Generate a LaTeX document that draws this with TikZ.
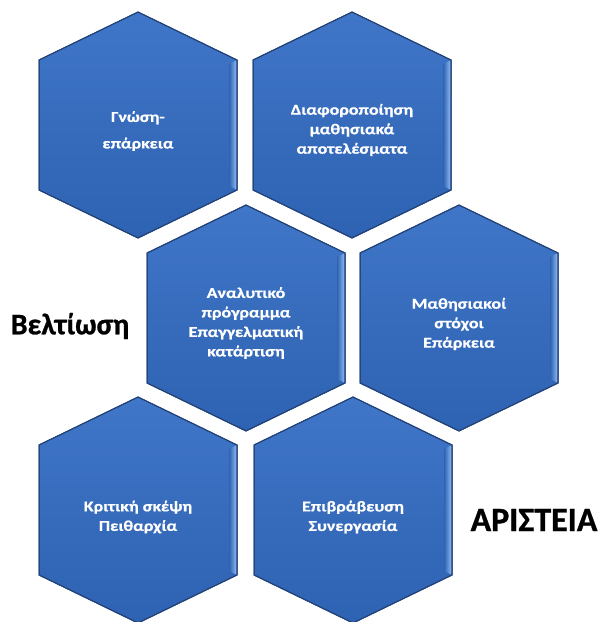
\documentclass[tikz,border=0pt]{standalone}
\usepackage{fontspec}
\setmainfont{Carlito}
\newfontfamily\hexfont{Carlito}[FakeStretch=1.2,FakeBold=0.6]
\newfontfamily\labfont{Carlito}[FakeBold=0.8]
\usetikzlibrary{calc}
\definecolor{hexedge}{RGB}{34,66,120}
\definecolor{hextop}{RGB}{64,118,200}
\definecolor{hexbot}{RGB}{46,98,178}
\definecolor{hexlight}{RGB}{140,185,240}
\tikzset{
  x=1pt,y=-1pt,
  hextext/.style={text=white,font=\hexfont\bfseries\fontsize{15}{19.5}\selectfont,align=center},
  biglabel/.style={text=black},
  hexfill/.style={draw=hexedge,line width=1pt,top color=hextop,bottom color=hexbot},
  hexshadow/.style={fill=black,opacity=0.07},
}
\newcommand{\hexshape}[2][]{%
  \path[#1] (#2) ++(0,-113) -- ++(99,48) -- ++(0,130) -- ++(-99,48) -- ++(-99,-48) -- ++(0,-130) -- cycle;}
\newcommand{\hexagon}[1]{%
  \foreach \s in {2,3.5,5}{\hexshape[hexshadow,shift={(0,\s)}]{#1}}
  \hexshape[hexfill]{#1}
  \path[left color=hexbot,right color=hexlight] ($(#1)+(91,-61)$) -- ($(#1)+(98.4,-64.6)$) -- ($(#1)+(98.4,64.6)$) -- ($(#1)+(91,61)$) -- cycle;
  \hexshape[draw=hexedge,line width=1pt]{#1}}
\begin{document}
\begin{tikzpicture}
\useasboundingbox (0,0) rectangle (602,622);
\coordinate (c1) at (138,125);
\coordinate (c2) at (352,125);
\coordinate (c3) at (246,318);
\coordinate (c4) at (459,318);
\coordinate (c5) at (138,510);
\coordinate (c6) at (353,510);
\foreach \c in {c1,c2,c3,c4,c5,c6}{\hexagon{\c}}
\node[hextext] (t1) at ($(c1)+(0,6)$) {Γνώση-\\[7pt]επάρκεια};
\node[hextext] (t2) at ($(c2)+(0,5)$) {Διαφοροποίηση\\μαθησιακά\\αποτελέσματα};
\node[hextext] (t3) at ($(c3)+(0,5)$) {Αναλυτικό\\πρόγραμμα\\Επαγγελματική\\κατάρτιση};
\node[hextext] (t4) at ($(c4)+(0,6)$) {Μαθησιακοί\\στόχοι\\Επάρκεια};
\node[hextext] (t5) at ($(c5)+(0,7)$) {Κριτική σκέψη\\Πειθαρχία};
\node[hextext] (t6) at ($(c6)+(0,7)$) {Επιβράβευση\\Συνεργασία};
\node[biglabel,font=\labfont\bfseries\fontsize{30}{34}\selectfont] (b1) at (70,326) {Βελτίωση};
\node[biglabel,font=\labfont\bfseries\fontsize{34}{38}\selectfont] (b2) at (534,520) {ΑΡΙΣΤΕΙΑ};
\end{tikzpicture}
\end{document}
